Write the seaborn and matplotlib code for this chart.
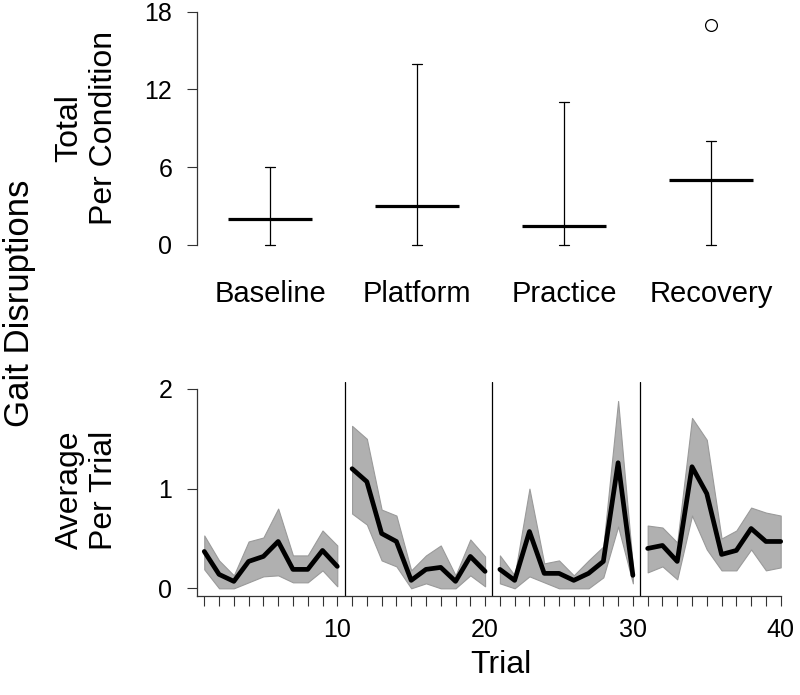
import numpy as np
import pandas as pd
import matplotlib
matplotlib.use("Agg")
import matplotlib.pyplot as plt
import seaborn as sns

# Top panel: total gait disruptions per condition
conditions = ["Baseline", "Platform", "Practice", "Recovery"]
total_median = [2, 3, 1.5, 5]
total_whisker_low = [0, 0, 0, 0]
total_whisker_high = [6, 14, 11, 8]
total_outliers = [[], [], [], [17]]

# Bottom panel: average per trial (mean with shaded range)
trials = list(range(1, 41))
trial_mean = [0.37, 0.14, 0.07, 0.27, 0.32, 0.47, 0.19, 0.19, 0.38, 0.22,
              1.20, 1.07, 0.55, 0.47, 0.08, 0.19, 0.21, 0.07, 0.32, 0.17,
              0.19, 0.08, 0.57, 0.15, 0.15, 0.08, 0.15, 0.27, 1.26, 0.13,
              0.40, 0.43, 0.27, 1.22, 0.95, 0.34, 0.38, 0.60, 0.47, 0.47]
trial_upper = [0.53, 0.28, 0.13, 0.47, 0.51, 0.80, 0.33, 0.33, 0.58, 0.43,
               1.63, 1.50, 0.79, 0.73, 0.18, 0.33, 0.43, 0.13, 0.49, 0.32,
               0.33, 0.13, 1.00, 0.25, 0.28, 0.13, 0.28, 0.42, 1.88, 0.22,
               0.63, 0.61, 0.46, 1.71, 1.49, 0.50, 0.58, 0.81, 0.76, 0.73]
trial_lower = [0.19, 0.00, 0.00, 0.06, 0.12, 0.13, 0.06, 0.06, 0.18, 0.02,
               0.75, 0.64, 0.28, 0.22, 0.00, 0.05, 0.00, 0.00, 0.13, 0.02,
               0.05, 0.00, 0.12, 0.06, 0.00, 0.00, 0.00, 0.11, 0.62, 0.05,
               0.16, 0.22, 0.09, 0.73, 0.39, 0.18, 0.18, 0.39, 0.18, 0.21]

sns.set_theme(style="ticks")
plt.rcParams["font.family"] = ["Liberation Sans", "DejaVu Sans"]
plt.rcParams["text.color"] = "black"
plt.rcParams["xtick.labelcolor"] = "black"
plt.rcParams["ytick.labelcolor"] = "black"
spine_col = "#333333"

fig = plt.figure(figsize=(8, 6.95), dpi=100)
ax1 = fig.add_axes([0.2459, 0.6475, 0.744, 0.3357])
ax2 = fig.add_axes([0.2461, 0.14245, 0.739, 0.3079])

# ---- top: whisker + median only
stats = []
for c, m, lo, hi, fl in zip(conditions, total_median, total_whisker_low,
                            total_whisker_high, total_outliers):
    stats.append(dict(label=c, med=m, q1=m, q3=m, whislo=lo, whishi=hi, fliers=fl))

bp = ax1.bxp(stats, positions=[1, 2, 3, 4], widths=0.57, showbox=False,
             capwidths=0.065,
             medianprops=dict(color="black", lw=2.3, solid_capstyle="butt"),
             whiskerprops=dict(color="black", lw=0.9),
             capprops=dict(color="black", lw=0.9),
             flierprops=dict(marker="o", mfc="none", mec="black", ms=8.5, mew=0.9))
for group in bp.values():
    for art in group:
        art.set_clip_on(False)

ax1.set_xlim(0.5, 4.55)
ax1.set_ylim(0, 18)
ax1.set_yticks([0, 6, 12, 18])
ax1.set_xticks([1, 2, 3, 4], conditions)
ax1.tick_params(axis="x", length=0, pad=25, labelsize=21, labelcolor="black")
ax1.tick_params(axis="y", length=7.2, width=0.8, pad=10.5, labelsize=18,
                color=spine_col, labelcolor="black")
for s in ["top", "right", "bottom"]:
    ax1.spines[s].set_visible(False)
ax1.spines["left"].set_bounds(0, 18)
ax1.spines["left"].set_color(spine_col)
ax1.spines["left"].set_linewidth(0.9)

# ---- bottom: mean line with shaded band, one segment per condition
df = pd.DataFrame({
    "trial": trials,
    "mean": trial_mean,
    "upper": trial_upper,
    "lower": trial_lower,
    "cond": np.repeat(conditions, 10),
})
for c in conditions:
    sub = df[df["cond"] == c]
    ax2.fill_between(sub["trial"], sub["lower"], sub["upper"], color="#b0b0b0",
                     edgecolor="#9a9a9a", lw=0.8, zorder=1)
sns.lineplot(data=df, x="trial", y="mean", units="cond", estimator=None,
             color="black", lw=3.4, ax=ax2, zorder=3)
for xv in [10.5, 20.5, 30.5]:
    ax2.axvline(xv, color="black", lw=0.9, zorder=2)

ax2.set_xlim(0.5, 40.5)
ax2.set_ylim(-0.077, 2.07)
ax2.set_xticks(trials, [str(t) if t % 10 == 0 else "" for t in trials])
ax2.set_yticks([0, 1, 2])
ax2.tick_params(axis="both", length=7.2, width=0.8, labelsize=18,
                color=spine_col, labelcolor="black")
ax2.tick_params(axis="x", pad=9)
ax2.tick_params(axis="y", pad=10.5)
ax2.set_xlabel("")
ax2.set_ylabel("")
for s in ["top", "right"]:
    ax2.spines[s].set_visible(False)
ax2.spines["left"].set_bounds(-0.077, 2)
ax2.spines["bottom"].set_bounds(0.5, 40)
for s in ["left", "bottom"]:
    ax2.spines[s].set_color(spine_col)
    ax2.spines[s].set_linewidth(0.9)

# ---- labels
fig.text(19.5 / 800, 1 - 303 / 695, "Gait Disruptions", rotation=90,
         ha="center", va="center", fontsize=25, color="black")
fig.text(87 / 800, 1 - 128 / 695, "Total\nPer Condition", rotation=90,
         ha="center", va="center", fontsize=23, multialignment="center",
         color="black")
fig.text(87 / 800, 1 - 490 / 695, "Average\nPer Trial", rotation=90,
         ha="center", va="center", fontsize=23, multialignment="center",
         color="black")
fig.text(501 / 800, 1 - 665 / 695, "Trial", ha="center", va="center",
         fontsize=23, color="black")

fig.savefig("out.png", dpi=100)
